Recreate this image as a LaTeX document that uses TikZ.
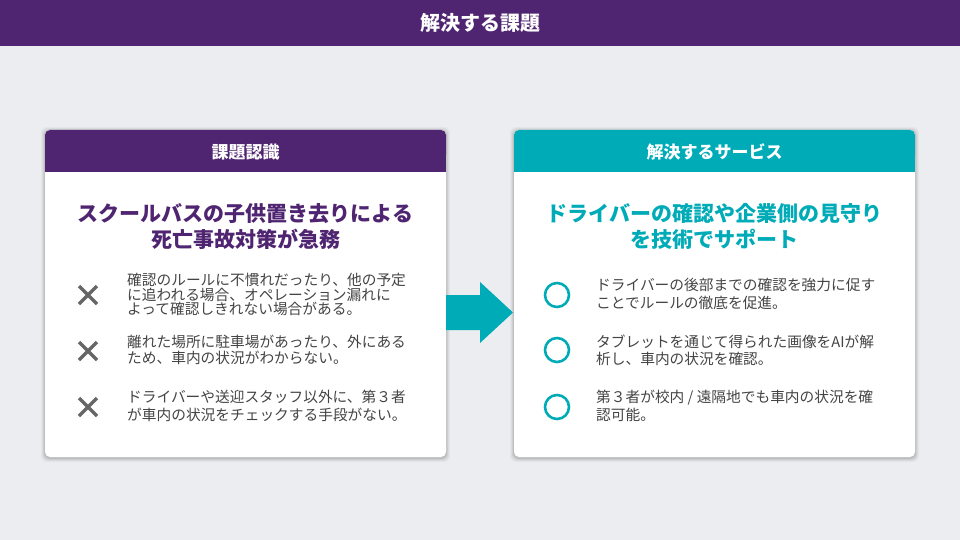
\documentclass[tikz,border=0pt]{standalone}
\usepackage{fontspec}
\setmainfont{Noto Sans CJK JP}
\usetikzlibrary{calc}
\definecolor{bgc}{HTML}{ECEDF1}
\definecolor{purp}{HTML}{4F2470}
\definecolor{teal}{HTML}{00ABB8}
\definecolor{txt}{HTML}{444444}
\definecolor{xmk}{HTML}{666666}
\tikzset{
  itemtext/.style={anchor=west,inner sep=0pt,align=left,text=txt},
  xmark/.style={draw=xmk,line width=3.4pt},
  omark/.style={draw=teal,line width=2.6pt},
  hdrtext/.style={text=white,font=\fontsize{17}{20}\selectfont\bfseries,inner sep=0pt},
  subtext/.style={font=\fontsize{21}{27}\selectfont\bfseries,inner sep=0pt,align=center},
}
\begin{document}
\begin{tikzpicture}[x=1pt,y=-1pt]
\useasboundingbox (0,0) rectangle (960,540);
\fill[bgc] (0,0) rectangle (960,540);
% top bar
\fill[purp] (0,0) rectangle (960,46);
\node[text=white,font=\fontsize{20}{22}\selectfont\bfseries,inner sep=0pt] (title) at (480,23) {解決する課題};
% shadows
\foreach \cx in {45,514}{
  \foreach \s/\o in {4/0.03,3/0.04,2/0.06,1/0.08}{
    \fill[black,opacity=\o,rounded corners=6pt] (\cx-\s,130-\s+1) rectangle (\cx+401+\s,457+\s+1);
  }
}
% left card
\fill[white,rounded corners=5pt] (45,130) rectangle (446,457);
\fill[purp,rounded corners=5pt] (45,130) rectangle (446,160);
\fill[purp] (45,150) rectangle (446,172);
\node[hdrtext] (lh) at (245.5,152) {課題認識};
\node[subtext,text=purp] (ls) at (245.5,226.5) {スクールバスの子供置き去りによる\\[-1pt]死亡事故対策が急務};
% right card
\fill[white,rounded corners=5pt] (514,130) rectangle (915,457);
\fill[teal,rounded corners=5pt] (514,130) rectangle (915,160);
\fill[teal] (514,150) rectangle (915,172);
\node[hdrtext] (rh) at (714.5,152) {解決するサービス};
\node[subtext,text=teal] (rs) at (714.5,226.5) {ドライバーの確認や企業側の見守り\\[-1pt]を技術でサポート};
% arrow
\fill[teal] (446,295) -- (480,295) -- (480,282) -- (513,312.5) -- (480,343) -- (480,330) -- (446,330) -- cycle;
% left items
\foreach \y/\n in {295/1,351/2,407/3}{
  \draw[xmark] (88-9,\y-9) -- (88+9,\y+9) (88-9,\y+9) -- (88+9,\y-9);
}
\node[itemtext,font=\fontsize{14.7}{14.3}\selectfont] (l1) at (127,294.5) {確認のルールに不慣れだったり、他の予定\\に追われる場合、オペレーション漏れに\\よって確認しきれない場合がある。};
\node[itemtext,font=\fontsize{14.7}{16.5}\selectfont] (l2) at (127,350) {離れた場所に駐車場があったり、外にある\\ため、車内の状況がわからない。};
\node[itemtext,font=\fontsize{14.7}{18}\selectfont] (l3) at (127,406) {ドライバーや送迎スタッフ以外に、第３者\\が車内の状況をチェックする手段がない。};
% right items
\foreach \y/\n in {295/1,350/2,407/3}{
  \draw[omark] (557,\y) circle (12);
}
\node[itemtext,font=\fontsize{14.7}{18}\selectfont] (r1) at (596,294) {ドライバーの後部までの確認を強力に促す\\ことでルールの徹底を促進。};
\node[itemtext,font=\fontsize{14.7}{17}\selectfont] (r2) at (596,350) {タブレットを通じて得られた画像をAIが解\\析し、車内の状況を確認。};
\node[itemtext,font=\fontsize{14.7}{18}\selectfont] (r3) at (596,406) {第３者が校内 / 遠隔地でも車内の状況を確\\認可能。};
\end{tikzpicture}
\end{document}
